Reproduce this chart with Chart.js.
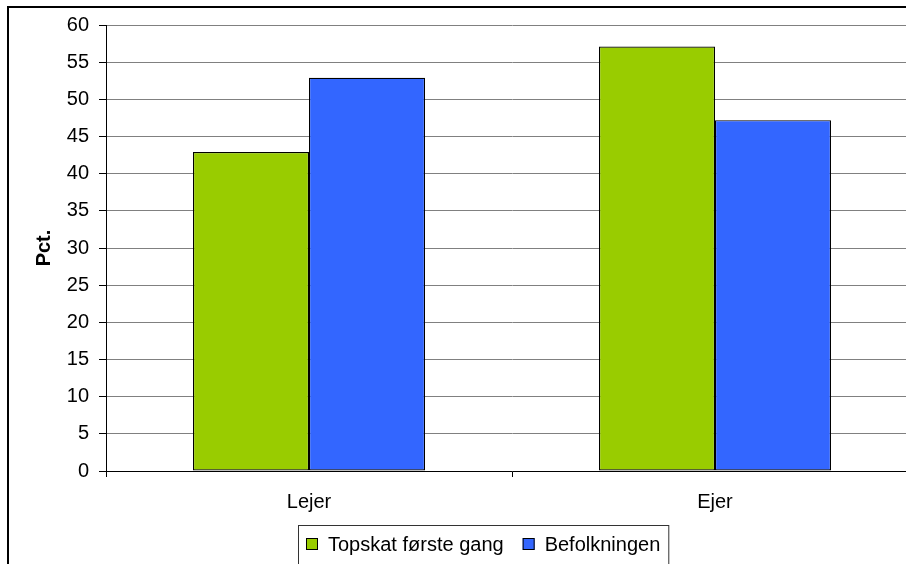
<!DOCTYPE html>
<html>
<head>
<meta charset="utf-8">
<script src="https://cdn.jsdelivr.net/npm/chart.js@4/dist/chart.umd.min.js"></script>
<style>
  html, body { margin: 0; padding: 0; overflow: hidden; background: #fff; }
  #frame { position: absolute; left: 7px; top: 6px; width: 920px; height: 580px; border: 2px solid #000; background: #fff; }
  canvas { display: block; }
</style>
</head>
<body>
<div id="frame"><canvas id="chart" width="920" height="580"></canvas></div>
<script>
// data
const categories = ['Lejer', 'Ejer']
const seriesNames = ['Topskat første gang', 'Befolkningen']
const topskat = [42.9, 57.1]
const befolkning = [52.9, 47.2]
const yTicks = { min: 0, max: 60, step: 5 }
const colors = ['#99CC00', '#3366FF']

const FONT = 'Arial, "Liberation Sans", sans-serif'

// legend with a box round it, drawn by hand
const boxedLegend = {
  id: 'boxedLegend',
  afterDraw(chart) {
    const ctx = chart.ctx
    const sets = chart.data.datasets
    ctx.save()
    ctx.font = '20px ' + FONT
    const pad = 8, sq = 12, gap = 10, between = 19
    let w = pad * 2
    sets.forEach((ds, i) => {
      w += sq + gap + ctx.measureText(ds.label).width
      if (i < sets.length - 1) w += between
    })
    const cx = 474.5
    const top = 517
    const mid = 536
    let x = Math.round(cx - w / 2)
    ctx.fillStyle = '#fff'
    ctx.fillRect(x, top, w, 60)
    ctx.strokeStyle = '#333'
    ctx.lineWidth = 1
    ctx.strokeRect(x + 0.5, top + 0.5, w, 60)
    x += pad
    ctx.textBaseline = 'middle'
    sets.forEach((ds) => {
      ctx.fillStyle = ds.backgroundColor
      ctx.fillRect(x, mid - 6, sq, sq)
      ctx.strokeStyle = '#000'
      ctx.strokeRect(x + 0.5, mid - 5.5, sq - 1, sq - 1)
      x += sq + gap
      ctx.fillStyle = '#000'
      ctx.fillText(ds.label, x, mid + 1)
      x += ctx.measureText(ds.label).width + between
    })
    ctx.restore()
  }
}

new Chart(document.getElementById('chart'), {
  type: 'bar',
  data: {
    labels: categories,
    datasets: [
      { label: seriesNames[0], data: topskat, backgroundColor: colors[0] },
      { label: seriesNames[1], data: befolkning, backgroundColor: colors[1] },
    ]
  },
  options: {
    responsive: false,
    animation: false,
    events: [],
    layout: { padding: { top: 17, right: 11, left: 0, bottom: 0 } },
    datasets: {
      bar: {
        borderColor: '#000',
        borderWidth: 1.2,
        borderSkipped: false,
        categoryPercentage: 2 / 3.5,
        barPercentage: 1,
      }
    },
    plugins: {
      legend: { display: false },
      tooltip: { enabled: false },
    },
    scales: {
      x: {
        grid: { display: true, drawOnChartArea: false, offset: true, tickLength: 6, tickColor: '#000' },
        border: { color: '#000', width: 1 },
        ticks: { color: '#000', font: { family: FONT, size: 20 }, padding: 13 },
        afterFit(scale) { scale.height = 117 },
      },
      y: {
        min: yTicks.min,
        max: yTicks.max,
        ticks: { stepSize: yTicks.step, color: '#000', font: { family: FONT, size: 20 }, padding: 10 },
        grid: { color: '#808080', tickColor: '#000', tickLength: 7 },
        border: { color: '#000', width: 1 },
        title: {
          display: true,
          text: 'Pct.',
          color: '#000',
          font: { family: FONT, size: 20, weight: 'bold' },
          padding: { top: 23, bottom: 0 },
        },
        afterFit(scale) {
          scale.width = 97
          scale.paddingTop = 0
          scale.paddingBottom = 0
        },
      }
    }
  },
  plugins: [boxedLegend]
})
</script>
</body>
</html>
